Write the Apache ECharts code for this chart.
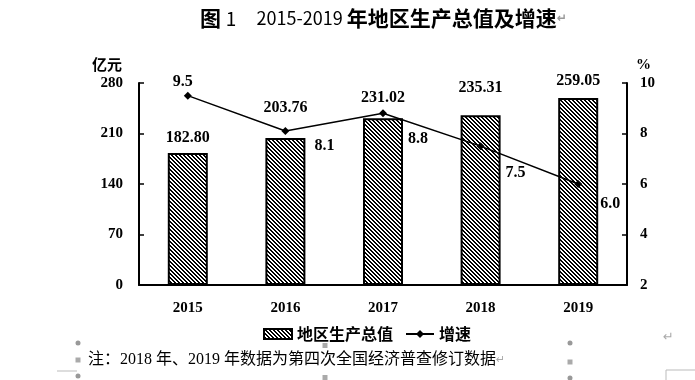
<!DOCTYPE html>
<html><head><meta charset="utf-8">
<script src="https://cdn.jsdelivr.net/npm/echarts@6/dist/echarts.min.js"></script>
<style>html,body{margin:0;padding:0;background:#fff}#c{width:695px;height:380px}</style>
</head><body><div id="c"></div>
<script>
const categories = ['2015', '2016', '2017', '2018', '2019'];
const gdpValues = [182.80, 203.76, 231.02, 235.31, 259.05];
const growthValues = [9.5, 8.1, 8.8, 7.5, 6.0];
const leftTicks = [0, 70, 140, 210, 280];
const rightTicks = [2, 4, 6, 8, 10];

// label offsets (style only)
const barLabelOffsets = [[0, -2], [0, -17], [0, -7], [0, -14], [0, -4]];
const lineLabelOffsets = [[-5, -14], [39, 15], [35, 26], [35, 27], [32, 20]];

function hatch() {
  const s = 4;
  const c = document.createElement('canvas');
  c.width = s; c.height = s;
  const g = c.getContext('2d');
  const img = g.createImageData(s, s);
  for (let y = 0; y < s; y++) {
    for (let x = 0; x < s; x++) {
      const m = ((x - y) % s + s) % s;
      const v = (m === 0 || m === 1) ? 0 : 255;
      const i = (y * s + x) * 4;
      img.data[i] = v; img.data[i + 1] = v; img.data[i + 2] = v; img.data[i + 3] = 255;
    }
  }
  g.putImageData(img, 0, 0);
  return c;
}
const pattern = { image: hatch(), repeat: 'repeat' };

const serif = '"Liberation Serif", "Times New Roman", serif';
const cjk = '"Liberation Serif", "Noto Sans CJK SC", serif';

const chart = echarts.init(document.getElementById('c'), null, { renderer: 'canvas' });
chart.setOption({
  animation: false,
  backgroundColor: '#fff',
  title: {
    text: '{a|图 }{n|1}{b|     2015-2019 }{a|年地区生产总值及增速}{r|↵}',
    left: 195, top: 3,
    textStyle: {
      rich: {
        a: { fontFamily: '"Noto Sans CJK SC"', fontWeight: 'bold', fontSize: 21, color: '#000' },
        n: { fontFamily: '"Noto Sans CJK SC"', fontWeight: 'normal', fontSize: 19, color: '#000' },
        b: { fontFamily: '"Noto Sans CJK SC"', fontWeight: 'normal', fontSize: 18, color: '#000' },
        r: { fontFamily: '"DejaVu Sans"', fontSize: 12, color: '#999' }
      }
    }
  },
  grid: { left: 139, right: 68, top: 83, bottom: 95, containLabel: false },
  legend: {
    left: 258, top: 321,
    itemWidth: 28, itemHeight: 10, itemGap: 12,
    textStyle: { fontFamily: '"Noto Sans CJK SC"', fontWeight: 'bold', fontSize: 16, color: '#000' },
    data: [
      { name: '地区生产总值', icon: 'rect' },
      { name: '增速' }
    ]
  },
  xAxis: {
    type: 'category', data: categories,
    axisLine: { lineStyle: { color: '#000', width: 2 } },
    axisTick: { inside: true, length: 5, lineStyle: { color: '#000', width: 1.5 } },
    axisLabel: { margin: 16, fontFamily: serif, fontWeight: 'bold', fontSize: 15, color: '#000' }
  },
  yAxis: [
    {
      type: 'value', min: leftTicks[0], max: leftTicks[leftTicks.length - 1], interval: leftTicks[1] - leftTicks[0],
      axisLine: { show: true, lineStyle: { color: '#000', width: 2 } },
      axisTick: { show: true, inside: true, length: 5, lineStyle: { color: '#000', width: 1.5 } },
      axisLabel: { margin: 16, fontFamily: serif, fontWeight: 'bold', fontSize: 15, color: '#000' },
      splitLine: { show: false }
    },
    {
      type: 'value', min: rightTicks[0], max: rightTicks[rightTicks.length - 1], interval: rightTicks[1] - rightTicks[0],
      position: 'right',
      axisLine: { show: true, lineStyle: { color: '#000', width: 2 } },
      axisTick: { show: true, inside: true, length: 5, lineStyle: { color: '#000', width: 1.5 } },
      axisLabel: { margin: 13, fontFamily: serif, fontWeight: 'bold', fontSize: 15, color: '#000' },
      splitLine: { show: false }
    }
  ],
  graphic: [
    { type: 'text', left: 92, top: 57, style: { text: '亿元', font: 'bold 15px "Noto Sans CJK SC"', fill: '#000' } },
    { type: 'text', left: 636, top: 58, style: { text: '%', font: 'bold 15px "Liberation Serif"', fill: '#000' } },
    { type: 'text', left: 88, top: 352, style: {
        text: '{t|注：2018 年、2019 年数据为第四次全国经济普查修订数据}{r|↵}',
        rich: {
          t: { fontSize: 16, fontFamily: cjk, fill: '#000', color: '#000' },
          r: { fontSize: 11, fontFamily: '"DejaVu Sans"', fill: '#aaa', color: '#aaa' }
        } } },
    { type: 'text', left: 663, top: 331, style: { text: '↵', font: '13px "DejaVu Sans"', fill: '#aaa' } },
    { type: 'circle', shape: { cx: 78, cy: 343, r: 2.5 }, style: { fill: '#999' } },
    { type: 'rect', shape: { x: 75.5, y: 357.5, width: 5, height: 5 }, style: { fill: '#aaa' } },
    { type: 'circle', shape: { cx: 78, cy: 376, r: 2.5 }, style: { fill: '#999' } },
    { type: 'line', shape: { x1: 57, y1: 371, x2: 77, y2: 371 }, style: { stroke: '#bbb', lineWidth: 1 } },
    { type: 'rect', shape: { x: 322.5, y: 343, width: 5, height: 5 }, style: { fill: '#aaa' } },
    { type: 'rect', shape: { x: 322.5, y: 375, width: 5, height: 5 }, style: { fill: '#aaa' } },
    { type: 'circle', shape: { cx: 570, cy: 343, r: 2.5 }, style: { fill: '#999' } },
    { type: 'rect', shape: { x: 567.5, y: 359.5, width: 5, height: 5 }, style: { fill: '#aaa' } },
    { type: 'circle', shape: { cx: 570, cy: 378, r: 2.5 }, style: { fill: '#999' } },
    { type: 'polyline', shape: { points: [[666, 381], [666, 370], [695, 370]] }, style: { stroke: '#bbb', lineWidth: 1, fill: null } }
  ],
  series: [
    {
      name: '地区生产总值', type: 'bar', yAxisIndex: 0, barWidth: 40, z: 2,
      itemStyle: { color: pattern, borderColor: '#000', borderWidth: 2 },
      label: { show: true, position: 'top', distance: 5, fontFamily: serif, fontWeight: 'bold', fontSize: 16, color: '#000',
        formatter: p => p.value.toFixed(2) },
      data: gdpValues.map((v, i) => ({ value: v, label: { offset: barLabelOffsets[i] } }))
    },
    {
      name: '增速', type: 'line', yAxisIndex: 1, z: 5,
      symbol: 'diamond', symbolSize: 8,
      lineStyle: { color: '#000', width: 1.5 },
      itemStyle: { color: '#000' },
      label: { show: true, position: 'inside', fontFamily: serif, fontWeight: 'bold', fontSize: 16, color: '#000',
        formatter: p => p.value.toFixed(1) },
      data: growthValues.map((v, i) => ({ value: v, label: { offset: lineLabelOffsets[i] } }))
    }
  ]
});
</script></body></html>
